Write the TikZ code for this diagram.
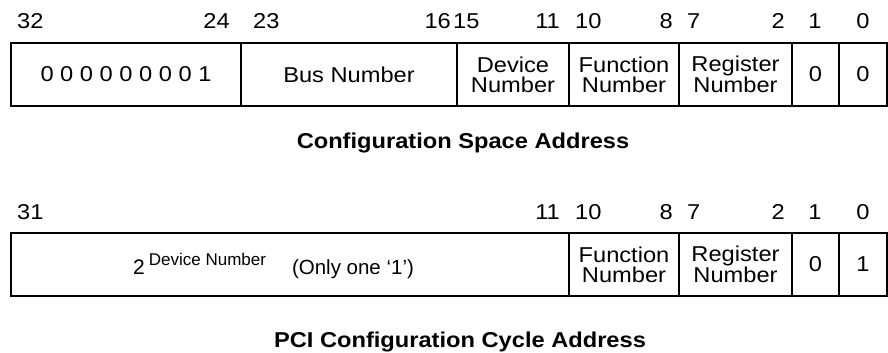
\documentclass[tikz,border=0pt]{standalone}
\usepackage{fontspec}
\setmainfont{Liberation Sans}[FakeStretch=1.1]
\newfontfamily\plainsans{Liberation Sans}
\usetikzlibrary{positioning}

\tikzset{
	field/.style={draw=black, line width=1.2pt, inner sep=0pt, outer sep=0pt,
		minimum height=63pt, align=center,
		font=\fontsize{21.5}{20}\selectfont},
	bitnum/.style={inner sep=0pt, font=\fontsize{21.5}{20}\selectfont},
	caption/.style={inner sep=0pt, anchor=base, font=\fontsize{21.5}{20}\selectfont\bfseries}
}

\begin{document}
\begin{tikzpicture}[x=1pt,y=-1pt]
	\useasboundingbox (0,0) rectangle (888,353);
	
	% Configuration Space Address
	\node[field, minimum width=230pt, anchor=north west] (ones) at (11,43) {0 0 0 0 0 0 0 0 1};
	\node[field, minimum width=216pt, right=0pt of ones] (bus) {Bus Number};
	\node[field, minimum width=112pt, right=0pt of bus] (dev) {Device\\Number};
	\node[field, minimum width=110pt, right=0pt of dev] (func) {Function\\Number};
	\node[field, minimum width=113pt, right=0pt of func] (reg) {Register\\Number};
	\node[field, minimum width=47pt, right=0pt of reg] (lowa) {0};
	\node[field, minimum width=48pt, right=0pt of lowa] (lowb) {0};
	
	\node[bitnum, anchor=base west] (n32) at (17,29) {32};
	\node[bitnum, anchor=base east] (n24) at (230,29) {24};
	\node[bitnum, anchor=base west] (n23) at (253,29) {23};
	\node[bitnum, anchor=base east] (n16) at (451,29) {16};
	\node[bitnum, anchor=base west] (n15) at (453,29) {15};
	\node[bitnum, anchor=base east] (n11) at (560,29) {11};
	\node[bitnum, anchor=base west] (n10) at (575,29) {10};
	\node[bitnum, anchor=base east] (n8) at (673,29) {8};
	\node[bitnum, anchor=base west] (n7) at (687,29) {7};
	\node[bitnum, anchor=base east] (n2) at (785,29) {2};
	\node[bitnum, anchor=base] (n1) at (815,29) {1};
	\node[bitnum, anchor=base] (n0) at (863,29) {0};
	
	\node[caption] (capa) at (463,148) {Configuration Space Address};
	
	% PCI Configuration Cycle Address
	\node[field, minimum width=558pt, anchor=north west] (sel) at (11,233) {};
	\node[field, minimum width=110pt, right=0pt of sel] (cfunc) {Function\\Number};
	\node[field, minimum width=113pt, right=0pt of cfunc] (creg) {Register\\Number};
	\node[field, minimum width=47pt, right=0pt of creg] (clowa) {0};
	\node[field, minimum width=48pt, right=0pt of clowa] (clowb) {1};
	\node[inner sep=0pt, anchor=base west, font=\plainsans\fontsize{21}{21}\selectfont] (seltext) at (133,274)
		{2\hspace{4pt}\raisebox{9pt}{\fontsize{17}{17}\selectfont Device Number}\hspace{26pt}{\fontsize{20.5}{21}\selectfont(Only one ‘1’)}};
	
	\node[bitnum, anchor=base west] (m31) at (17,219) {31};
	\node[bitnum, anchor=base east] (m11) at (560,219) {11};
	\node[bitnum, anchor=base west] (m10) at (575,219) {10};
	\node[bitnum, anchor=base east] (m8) at (673,219) {8};
	\node[bitnum, anchor=base west] (m7) at (687,219) {7};
	\node[bitnum, anchor=base east] (m2) at (785,219) {2};
	\node[bitnum, anchor=base] (m1) at (815,219) {1};
	\node[bitnum, anchor=base] (m0) at (863,219) {0};
	
	\node[caption] (capb) at (460,347) {PCI Configuration Cycle Address};
\end{tikzpicture}
\end{document}
